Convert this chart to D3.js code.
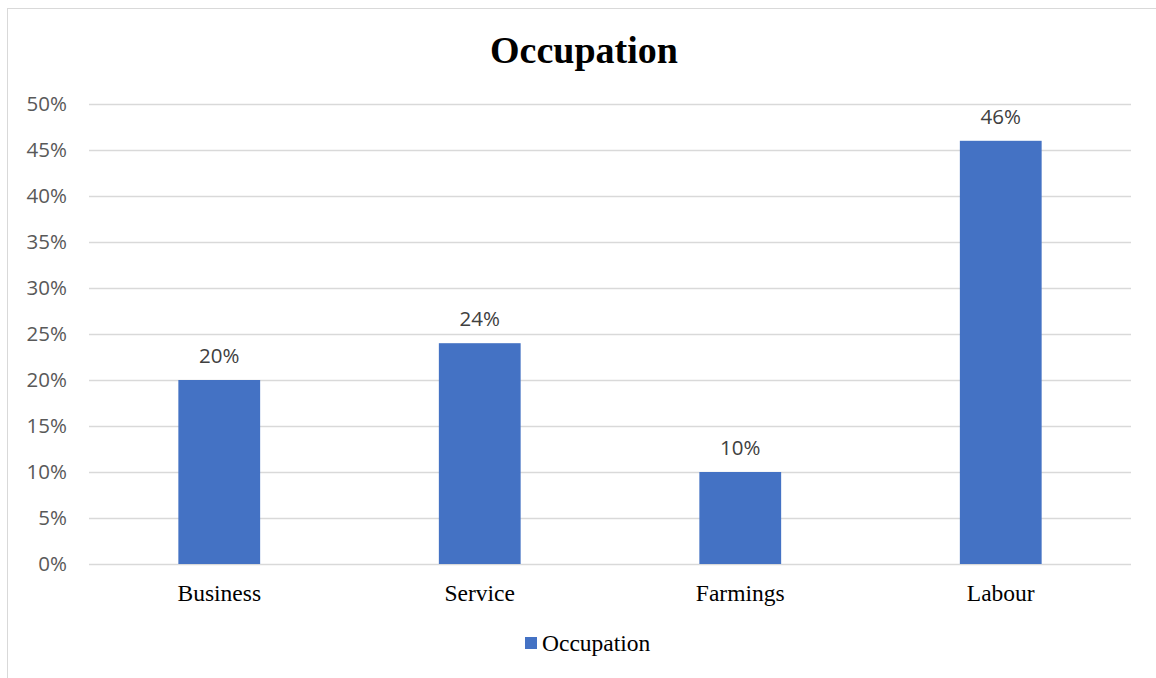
<!DOCTYPE html>
<html>
<head>
<meta charset="utf-8">
<script src="https://cdn.jsdelivr.net/npm/d3@7"></script>
<style>
  html, body { margin: 0; padding: 0; background: #fff; }
  svg { display: block; }
</style>
</head>
<body>
<svg id="chart" width="1156" height="678"></svg>
<script>
// Share of respondents by occupation
const categories = ["Business", "Service", "Farmings", "Labour"];
const values = [0.20, 0.24, 0.10, 0.46];
const yTicks = [0, 0.05, 0.10, 0.15, 0.20, 0.25, 0.30, 0.35, 0.40, 0.45, 0.50];
const seriesName = "Occupation";
const titleText = "Occupation";

const svg = d3.select("#chart");
const W = 1156, H = 678;
const plot = { left: 89, right: 1131, top: 104, bottom: 564 };
const barColor = "#4472C4";
const serif = "'Liberation Serif', 'Times New Roman', serif";
const sans = "'Open Sans', 'Liberation Sans', sans-serif";

// chart frame
svg.append("rect")
  .attr("x", 7.5).attr("y", 8.5)
  .attr("width", W + 10).attr("height", H + 10)
  .attr("fill", "#fff").attr("stroke", "#d9d9d9").attr("stroke-width", 1);

const x = d3.scaleBand().domain(categories).range([plot.left, plot.right]).paddingInner(0.686).paddingOuter(0.343);
const y = d3.scaleLinear().domain([0, 0.5]).range([plot.bottom, plot.top]);

// gridlines
svg.append("g").selectAll("line").data(yTicks).join("line")
  .attr("x1", plot.left).attr("x2", plot.right)
  .attr("y1", d => Math.round(y(d)) + 0.5).attr("y2", d => Math.round(y(d)) + 0.5)
  .attr("stroke", "#d9d9d9").attr("stroke-width", 1.5);

// y axis labels
const yAxis = d3.axisLeft(y).tickValues(yTicks).tickSize(0).tickPadding(22)
  .tickFormat(d3.format(".0%"));
const gy = svg.append("g").attr("transform", `translate(${plot.left},0)`).call(yAxis);
gy.select(".domain").remove();
gy.selectAll("text").attr("font-family", sans).attr("font-size", 20.5).attr("fill", "#595959");

// bars
svg.append("g").selectAll("rect").data(values).join("rect")
  .attr("x", (d, i) => x(categories[i]))
  .attr("width", x.bandwidth())
  .attr("y", d => y(d))
  .attr("height", d => y(0) - y(d))
  .attr("fill", barColor);

// value labels
svg.append("g").selectAll("text").data(values).join("text")
  .attr("x", (d, i) => x(categories[i]) + x.bandwidth() / 2)
  .attr("y", d => y(d) - 17)
  .attr("text-anchor", "middle")
  .attr("font-family", sans).attr("font-size", 20.5).attr("fill", "#404040")
  .text(d => d3.format(".0%")(d));

// x axis labels
const xAxis = d3.axisBottom(x).tickSize(0).tickPadding(20);
const gx = svg.append("g").attr("transform", `translate(0,${plot.bottom})`).call(xAxis);
gx.select(".domain").remove();
gx.selectAll("text").attr("font-family", serif).attr("font-size", 23.5).attr("fill", "#000");

// title
svg.append("text")
  .attr("x", 584).attr("y", 63)
  .attr("text-anchor", "middle")
  .attr("font-family", serif).attr("font-size", 38).attr("font-weight", "bold").attr("fill", "#000")
  .text(titleText);

// legend
const lg = svg.append("g").attr("transform", "translate(525,637)");
lg.append("rect").attr("x", 0).attr("y", 0).attr("width", 12).attr("height", 12).attr("fill", barColor);
lg.append("text").attr("x", 17).attr("y", 14)
  .attr("font-family", serif).attr("font-size", 23.5).attr("fill", "#000")
  .text(seriesName);
</script>
</body>
</html>
